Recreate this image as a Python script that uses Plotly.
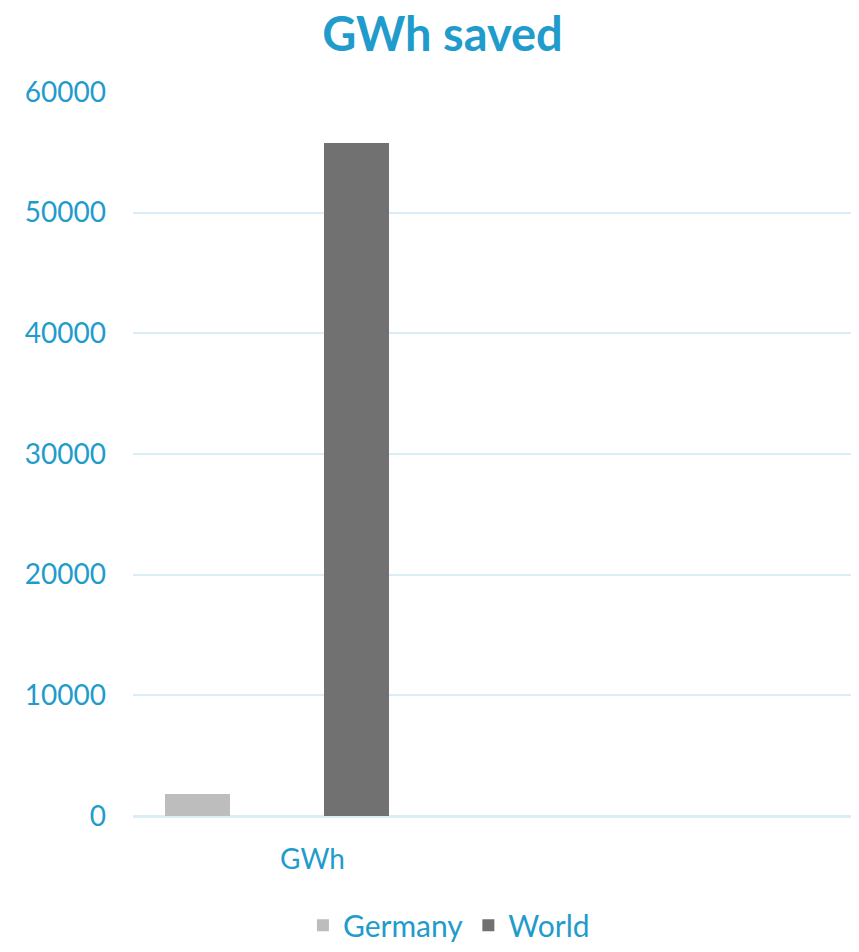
import plotly.graph_objects as go

categories = ["GWh"]
germany = [1800]
world = [55800]
y_ticks = [0, 10000, 20000, 30000, 40000, 50000, 60000]
y_tick_labels = ["0", "10000", "20000", "30000", "40000", "50000", "60000"]

blue = "#1F9BCC"
grid = "#DAEEF8"
bar_w = 0.181

fig = go.Figure()
fig.add_trace(go.Bar(name="Germany", x=categories, y=germany,
                     marker=dict(color="#BDBDBD", line=dict(width=0)),
                     width=bar_w, offset=-0.411))
fig.add_trace(go.Bar(name="World", x=categories, y=world,
                     marker=dict(color="#717171", line=dict(width=0)),
                     width=bar_w, offset=0.032))

fig.update_layout(
    width=843, height=936,
    paper_bgcolor="white", plot_bgcolor="white",
    margin=dict(l=125, r=0, t=84, b=128, autoexpand=False),
    title=dict(text="<b>GWh saved</b>", x=0.5154, xanchor="center", y=0.972, yanchor="middle",
               font=dict(family="Lato, Open Sans, sans-serif", size=47, color=blue)),
    font=dict(family="Lato, Open Sans, sans-serif", size=28, color=blue),
    showlegend=True,
    legend=dict(orientation="h", x=0.44, xanchor="center", y=-0.151, yanchor="middle",
                font=dict(size=30, color=blue), itemwidth=30, traceorder="normal"),
    bargap=0, bargroupgap=0,
)
fig.update_xaxes(type="category", range=[-0.5, 1.5], showgrid=False, showline=False,
                 ticks="", tickfont=dict(size=28, color=blue), zeroline=False,
                 ticklabelstandoff=24, automargin=False)
fig.update_yaxes(range=[0, 60000], tickvals=y_ticks, ticktext=y_tick_labels,
                 showgrid=True, gridcolor=grid, gridwidth=2,
                 zeroline=True, zerolinecolor=grid, zerolinewidth=3, showline=False,
                 tickfont=dict(size=28, color=blue), ticks="", ticklabelstandoff=26,
                 automargin=False)

fig.write_html("out.html")
